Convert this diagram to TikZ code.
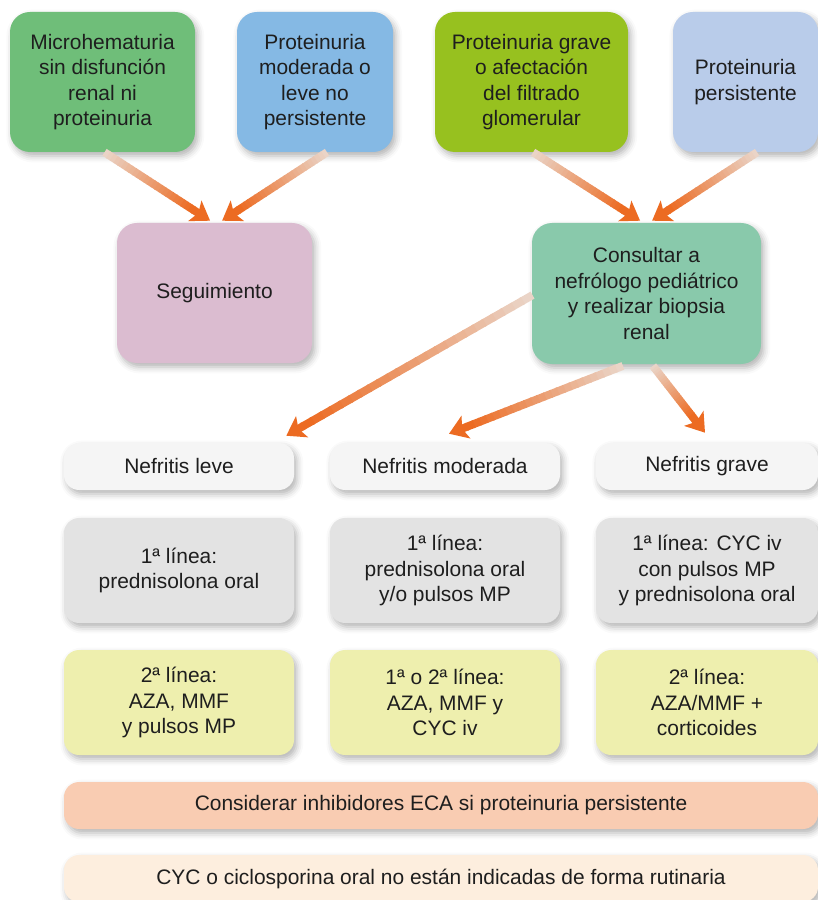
\documentclass[tikz,border=0pt]{standalone}
\usepackage{fontspec}
\setmainfont{Liberation Sans}
\usepackage{tikz}
\usetikzlibrary{arrows.meta, calc, shadows, shadows.blur}
\usepackage{xcolor}

\definecolor{verdeA}{HTML}{6FBE79}
\definecolor{azulB}{HTML}{85B9E4}
\definecolor{limaC}{HTML}{97C11F}
\definecolor{azulD}{HTML}{B9CCEA}
\definecolor{malva}{HTML}{DBBCD0}
\definecolor{menta}{HTML}{89C9AB}
\definecolor{grisnef}{HTML}{F5F5F5}
\definecolor{grislin}{HTML}{E3E3E3}
\definecolor{amarlin}{HTML}{EEEFAE}
\definecolor{salmon}{HTML}{F9CCB2}
\definecolor{crema}{HTML}{FDEEDE}
\definecolor{flechaini}{HTML}{EAD4C7}
\definecolor{flechafin}{HTML}{EC6B22}
\definecolor{texto}{HTML}{1E1E1E}

% gradient arrow: pale tail, orange head
\newcommand{\flecha}[2]{%
  \coordinate (fb) at ($(#2)!0.5cm!(#1)$);
  \foreach \i in {0,...,23}{%
    \pgfmathtruncatemacro\mezcla{100*\i/23}
    \draw[tramo, color=flechafin!\mezcla!flechaini]
      ($(#1)!{\i/24}!(fb)$) -- ($(#1)!{(\i+1.2)/24}!(fb)$);
  }
  \draw[punta] (fb) -- (#2);
}

\begin{document}
\begin{tikzpicture}[
  font=\fontsize{14.9}{18.2}\selectfont, text=texto,
  caja/.style={rounded corners=0.5cm, align=center, inner sep=0pt,
    blur shadow={shadow xshift=0.07cm, shadow yshift=-0.1cm,
      shadow blur radius=0.16cm, shadow opacity=30}},
  fila/.style={caja, rounded corners=0.38cm},
  tramo/.style={line width=0.2cm},
  punta/.style={-{Stealth[length=0.45cm, width=0.6cm, inset=0.1cm]},
    line width=0.2cm, flechafin}
]
  \useasboundingbox (0,0) rectangle (20.45,-22.5);

  \def\xL{4.475} \def\xM{11.125} \def\xG{17.675}
  \def\yN{-11.6625} \def\yP{-14.2625} \def\yS{-17.5625}

  %--- top row: findings ---
  \node[caja, fill=verdeA, minimum width=4.625cm, minimum height=3.5cm]
    (micro) at (2.5625,-2.05)
    {Microhematuria\\sin disfunción\\renal ni\\proteinuria};
  \node[caja, fill=azulB, minimum width=3.9cm, minimum height=3.5cm]
    (leveprot) at (7.875,-2.05)
    {Proteinuria\\moderada o\\leve no\\persistente};
  \node[caja, fill=limaC, minimum width=4.825cm, minimum height=3.5cm]
    (graveprot) at (13.2875,-2.05)
    {Proteinuria grave\\o afectación\\del filtrado\\glomerular};
  \node[caja, fill=azulD, minimum width=3.625cm, minimum height=3.5cm]
    (persist) at (18.6375,-2.05)
    {Proteinuria\\persistente};

  %--- second row: decision ---
  \node[caja, fill=malva, minimum width=4.875cm, minimum height=3.5cm]
    (seguim) at (5.3625,-7.325) {Seguimiento};
  \node[caja, fill=menta, minimum width=5.725cm, minimum height=3.525cm]
    (consult) at (16.1625,-7.3375)
    {Consultar a\\nefrólogo pediátrico\\y realizar biopsia\\renal};

  %--- nephritis columns ---
  \node[fila, fill=grisnef, minimum width=5.75cm, minimum height=1.175cm]
    (nleve) at (\xL,\yN) {Nefritis leve};
  \node[fila, fill=grisnef, minimum width=5.75cm, minimum height=1.175cm]
    (nmod) at (\xM,\yN) {Nefritis moderada};
  \node[fila, fill=grisnef, minimum width=5.55cm, minimum height=1.175cm]
    (ngrave) at (\xG,\yN) {Nefritis grave};

  \node[fila, fill=grislin, minimum width=5.75cm, minimum height=2.625cm]
    (pleve) at (\xL,\yP) {1ª línea:\\prednisolona oral};
  \node[fila, fill=grislin, minimum width=5.75cm, minimum height=2.625cm]
    (pmod) at (\xM,\yP) {1ª línea:\\prednisolona oral\\y/o pulsos MP};
  \node[fila, fill=grislin, minimum width=5.55cm, minimum height=2.625cm]
    (pgrave) at (\xG,\yP) {1ª línea: CYC iv\\con pulsos MP\\y prednisolona oral};

  \node[fila, fill=amarlin, minimum width=5.75cm, minimum height=2.625cm]
    (sleve) at (\xL,\yS) {2ª línea:\\AZA, MMF\\y pulsos MP};
  \node[fila, fill=amarlin, minimum width=5.75cm, minimum height=2.625cm]
    (smod) at (\xM,\yS) {1ª o 2ª línea:\\AZA, MMF y\\CYC iv};
  \node[fila, fill=amarlin, minimum width=5.55cm, minimum height=2.625cm]
    (sgrave) at (\xG,\yS) {2ª línea:\\AZA/MMF +\\corticoides};

  %--- bottom notes ---
  \node[fila, fill=salmon, minimum width=18.85cm, minimum height=1.175cm]
    (ieca) at (11.025,-20.1375)
    {Considerar inhibidores ECA si proteinuria persistente};
  \node[fila, fill=crema, minimum width=18.85cm, minimum height=1.175cm]
    (cyc) at (11.025,-21.9625)
    {CYC o ciclosporina oral no están indicadas de forma rutinaria};

  %--- arrows ---
  \coordinate (a1) at ($(micro.south)+(0.05,0)$);
  \coordinate (b1) at ($(seguim.north)+(-0.11,0.05)$);
  \coordinate (a2) at ($(leveprot.south)+(0.3,0)$);
  \coordinate (b2) at ($(seguim.north)+(0.19,0.05)$);
  \coordinate (a3) at ($(graveprot.south)+(0.04,0)$);
  \coordinate (b3) at ($(consult.north)+(-0.16,0.05)$);
  \coordinate (a4) at ($(persist.south)+(0.29,0)$);
  \coordinate (b4) at ($(consult.north)+(0.14,0.05)$);
  \coordinate (a5) at ($(consult.west)+(0.02,-0.04)$);
  \coordinate (b5) at ($(nleve.north east)+(-0.2,0.175)$);
  \coordinate (a6) at ($(consult.south)+(-0.59,-0.04)$);
  \coordinate (b6) at ($(nmod.north)+(0.1,0.225)$);
  \coordinate (a7) at ($(consult.south)+(0.16,-0.04)$);
  \coordinate (b7) at ($(ngrave.north)+(-0.05,0.25)$);

  \flecha{a1}{b1}
  \flecha{a2}{b2}
  \flecha{a3}{b3}
  \flecha{a4}{b4}
  \flecha{a5}{b5}
  \flecha{a6}{b6}
  \flecha{a7}{b7}

\end{tikzpicture}
\end{document}
